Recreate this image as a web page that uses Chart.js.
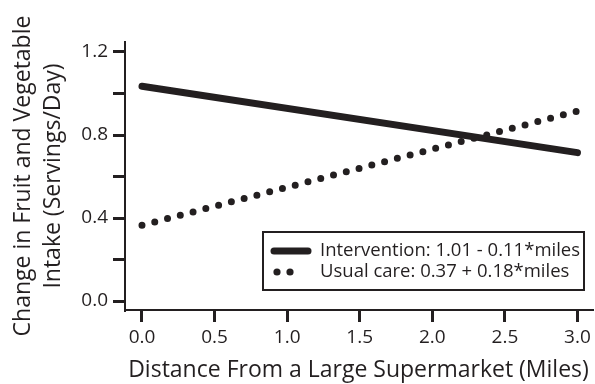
<!DOCTYPE html>
<html>
<head>
<meta charset="utf-8">
<script src="https://cdn.jsdelivr.net/npm/chart.js@4.4.1/dist/chart.umd.min.js"></script>
<style>
  html, body { margin: 0; padding: 0; background: #fff; }
  #wrap { width: 595px; height: 384px; }
</style>
</head>
<body>
<div id="wrap"><canvas id="fvChart" width="595" height="384"></canvas></div>
<script>
// values
var distance     = [0, 3];
var intervention = [1.035, 0.715];
var usualCare    = [0.365, 0.915];
var seriesNames  = ['Intervention: 1.01 - 0.11*miles', 'Usual care: 0.37 + 0.18*miles'];
var xTicks = [0, 0.5, 1, 1.5, 2, 2.5, 3];
var yTicks = [0, 0.2, 0.4, 0.6, 0.8, 1.0, 1.2];
var yLabelled = [0, 0.4, 0.8, 1.2];

var ink = '#231f20';
var fontFam = '"Open Sans", "Noto Sans", sans-serif';

function pts(xs, ys) {
    return xs.map(function(x, i) { return {x: x, y: ys[i]}; });
}

// legend box sitting inside the plot, lower right
var boxLegend = {
    id: 'boxLegend',
    afterDatasetsDraw: function(chart) {
        var ctx = chart.ctx;
        var x0 = 263, y0 = 232, w = 321, h = 58;
        ctx.save();
        ctx.fillStyle = '#fff';
        ctx.fillRect(x0, y0, w, h);
        ctx.lineWidth = 2;
        ctx.strokeStyle = ink;
        ctx.strokeRect(x0, y0, w, h);

        ctx.font = '18.5px ' + fontFam;
        ctx.fillStyle = ink;
        ctx.textBaseline = 'middle';
        ctx.textAlign = 'left';

        // solid line sample
        var ds0 = chart.data.datasets[0];
        ctx.beginPath();
        ctx.lineCap = 'round';
        ctx.lineWidth = ds0.borderWidth;
        ctx.strokeStyle = ds0.borderColor;
        ctx.moveTo(274, 251);
        ctx.lineTo(308, 251);
        ctx.stroke();
        ctx.fillText(ds0.label, 320, 251);

        // dotted sample
        var ds1 = chart.data.datasets[1];
        ctx.fillStyle = ds1.borderColor;
        [277, 290].forEach(function(cx) {
            ctx.beginPath();
            ctx.arc(cx, 272, 3.6, 0, Math.PI * 2);
            ctx.fill();
        });
        ctx.fillStyle = ink;
        ctx.fillText(ds1.label, 320, 272);
        ctx.restore();
    }
};

var ctx = document.getElementById('fvChart');
var chart = new Chart(ctx, {
    type: 'scatter',
    data: {
        datasets: [
            {
                label: seriesNames[0],
                data: pts(distance, intervention),
                showLine: true,
                borderColor: ink,
                borderWidth: 7,
                borderCapStyle: 'round',
                pointRadius: 0,
                fill: false
            },
            {
                label: seriesNames[1],
                data: pts(distance, usualCare),
                showLine: true,
                borderColor: ink,
                borderWidth: 7,
                borderCapStyle: 'round',
                borderDash: [0, 13.2],
                pointRadius: 0,
                fill: false
            }
        ]
    },
    options: {
        responsive: false,
        animation: false,
        layout: { padding: { top: 42, right: 3, left: 0, bottom: 0 } },
        plugins: {
            legend: { display: false },
            tooltip: { enabled: false }
        },
        scales: {
            x: {
                type: 'linear',
                min: -0.117,
                max: 3.10,
                afterBuildTicks: function(scale) {
                    scale.ticks = xTicks.map(function(v) { return {value: v}; });
                },
                afterFit: function(scale) { scale.height = 74; },
                ticks: {
                    color: ink,
                    padding: 4,
                    font: { family: fontFam, size: 19 },
                    callback: function(v) { return v.toFixed(1); }
                },
                grid: {
                    drawOnChartArea: false,
                    tickLength: 12,
                    lineWidth: 3,
                    color: ink
                },
                border: { display: true, color: ink, width: 2 },
                title: {
                    display: true,
                    text: 'Distance From a Large Supermarket (Miles)',
                    color: ink,
                    font: { family: fontFam, size: 23, lineHeight: 1.15 },
                    padding: { top: 0, bottom: 0 }
                }
            },
            y: {
                type: 'linear',
                min: -0.043,
                max: 1.248,
                afterBuildTicks: function(scale) {
                    scale.ticks = yTicks.map(function(v) { return {value: v}; });
                },
                afterFit: function(scale) { scale.width = 125; },
                ticks: {
                    color: ink,
                    padding: 5,
                    font: { family: fontFam, size: 19 },
                    callback: function(v) {
                        var keep = yLabelled.some(function(l) { return Math.abs(l - v) < 1e-6; });
                        return keep ? v.toFixed(1) : '';
                    }
                },
                grid: {
                    drawOnChartArea: false,
                    tickLength: 12,
                    lineWidth: 3,
                    color: ink
                },
                border: { display: true, color: ink, width: 2 },
                title: {
                    display: true,
                    text: ['Change in Fruit and Vegetable', 'Intake (Servings/Day)'],
                    color: ink,
                    font: { family: fontFam, size: 23, lineHeight: 1.3 },
                    padding: { top: 9, bottom: 0 }
                }
            }
        }
    },
    plugins: [boxLegend]
});
</script>
</body>
</html>
